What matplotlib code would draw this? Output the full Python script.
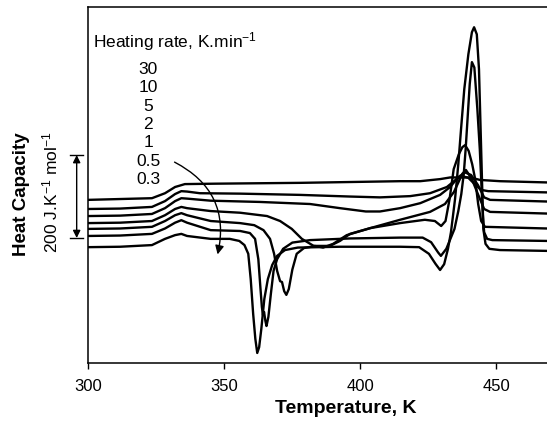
import matplotlib
matplotlib.use('Agg')
import matplotlib.pyplot as plt
import matplotlib.transforms as mtransforms
from matplotlib.patches import FancyArrowPatch

plt.rcParams['font.family'] = ['Liberation Sans', 'DejaVu Sans']
plt.rcParams['mathtext.fontset'] = 'custom'
plt.rcParams['mathtext.rm'] = 'Liberation Sans'
plt.rcParams['mathtext.it'] = 'Liberation Sans:italic'
plt.rcParams['mathtext.bf'] = 'Liberation Sans:bold'

# =======================================================
# DATA: heat capacity traces (J K-1 mol-1, shifted), T in K
# =======================================================
rate_labels = ['30', '10', '5', '2', '1', '0.5', '0.3']

T_30 = [300, 311.7, 323.4, 328.2, 331.9, 335.5, 346.6, 377.8, 414.6, 422, 429.3, 433,
        436.7, 440.3, 444, 451.3, 468.6]
cp_30 = [392, 394, 396, 408, 423, 430, 431, 433, 437, 437, 442, 446,
         446, 446, 440, 437, 434]

T_10 = [300, 311.7, 323.4, 328.2, 331.9, 334.2, 336.3, 341, 355.8, 377.8, 396.2, 407.2,
        418.3, 425.6, 431.8, 435, 437.5, 439.7, 442, 444.4, 447, 468.6]
cp_10 = [370, 371, 375, 389, 406, 413, 412, 408, 407, 404, 400, 398,
         401, 408, 423, 440, 449, 445, 430, 416, 413, 410]

T_5 = [300, 311.7, 323.4, 328.2, 331.9, 334.2, 336.3, 345, 363, 381.5, 392.5, 402,
       407.2, 414.6, 422, 429.3, 433, 436, 438.5, 440.7, 443.2, 445.5, 447.7, 468.6]
cp_5 = [353, 354, 358, 372, 389, 396, 395, 390, 387, 382, 372, 364,
        364, 372, 384, 404, 423, 447, 458, 452, 428, 398, 392, 388]

T_2 = [300, 311.7, 323.4, 328.2, 331.9, 334.2, 336.3, 345, 355.8, 365.7, 370.5, 374.8,
       378.5, 382.6, 386.3, 390, 395, 403.7, 414.6, 425.6, 431.1, 434.4, 437.5, 438.8,
       441, 443.2, 445.5, 447.7, 468.6]
cp_2 = [336, 337, 341, 355, 370, 375, 372, 365, 361, 353, 341, 322,
        298, 282, 277, 286, 307, 324, 344, 363, 382, 411, 455, 464,
        442, 406, 370, 363, 359]

T_1 = [300, 311.7, 323.4, 328.2, 331.9, 334.2, 336.3, 345, 355.8, 361, 364.4, 366.8,
       368.3, 369.4, 370.5, 371.2, 372, 372.8, 373.7, 375, 376.6, 379.3, 383.7, 388.8,
       392.5, 396.2, 403.7, 414.6, 423.7, 427.4, 429.7, 431.3, 432.8, 434.3, 436.2, 437.5,
       438.5, 439.8, 441.1, 442.2, 443.3, 444.4, 445.8, 468.6]
cp_1 = [322, 323, 327, 341, 355, 360, 355, 341, 336, 331, 319, 298,
        262, 221, 196, 194, 172, 163, 177, 224, 262, 276, 281, 281,
        293, 310, 324, 336, 344, 341, 329, 341, 394, 466, 502, 519,
        524, 510, 478, 442, 382, 341, 327, 323]

T_05 = [300, 311.7, 323.4, 328.2, 331.9, 334.2, 336.3, 345, 355.8, 359.4, 361.3, 362.5,
        363.3, 363.8, 364.2, 364.6, 365.1, 365.5, 366.2, 367.1, 368.1, 369.4, 371.6, 375,
        381.5, 396.2, 414.6, 422.9, 426, 428.6, 429.6, 431.6, 433.1, 434.6, 436, 437.1,
        438, 438.7, 439.5, 440.2, 441, 441.9, 443, 443.9, 444.4, 445, 445.5, 446.6,
        448.5, 468.6]
cp_05 = [305, 306, 310, 323, 337, 343, 337, 319, 317, 312, 298, 249,
         177, 134, 114, 122, 100, 88, 110, 165, 221, 249, 274, 289,
         295, 299, 301, 301, 290, 265, 257, 274, 298, 322, 365, 406,
         454, 514, 598, 671, 724, 711, 611, 514, 442, 358, 314, 298,
         295, 293]

T_03 = [300, 311.7, 323.4, 328.2, 331.9, 334.2, 336.3, 345, 352, 355.5, 357.4, 358.8,
        359.7, 360.6, 361.4, 362.1, 362.8, 363.6, 364.7, 366, 367.6, 369.4, 372.3, 377,
        392.5, 414.6, 421.6, 425.2, 427.6, 429.3, 430.8, 432.2, 433.3, 434.8, 436, 437,
        438.2, 439.7, 441, 441.8, 442.8, 443.6, 444.2, 444.8, 445.2, 446, 447.4, 451.3,
        468.6]
cp_03 = [278, 279, 283, 298, 307, 310, 305, 298, 298, 293, 283, 262,
         201, 117, 57, 23, 37, 81, 153, 201, 235, 257, 271, 277,
         279, 279, 278, 262, 238, 223, 237, 274, 314, 394, 478, 562,
         659, 743, 796, 808, 791, 707, 562, 417, 322, 286, 274, 271,
         269]

curves = [(T_30, cp_30), (T_10, cp_10), (T_5, cp_5), (T_2, cp_2),
          (T_1, cp_1), (T_05, cp_05), (T_03, cp_03)]

SCALE_BAR = 200  # J K-1 mol-1
x_ticks = [300, 350, 400, 450]

# =======================================================
# FIGURE
# =======================================================
fig = plt.figure(figsize=(5.47, 4.27), dpi=100)
ax = fig.add_axes([0.1614, 0.1487, 0.8386, 0.8337])

for T, cp in curves:
    ax.plot(T, cp, color='black', lw=1.7, solid_joinstyle='round', solid_capstyle='round')

ax.set_xlim(300, 468.6)
ax.set_ylim(0, 858)
ax.set_xticks(x_ticks)
ax.set_yticks([])
ax.tick_params(axis='x', direction='out', length=4, width=1, labelsize=12, pad=7)
ax.spines['right'].set_visible(False)
for s in ['left', 'top', 'bottom']:
    ax.spines[s].set_linewidth(1.1)

# legend text
ax.text(301.8, 763, r'Heating rate, K.min$^{\mathregular{-1}}$', fontsize=12.5,
        ha='left', va='baseline')
for i, lab in enumerate(rate_labels):
    ax.text(322, 698 - i * 44.2, lab, fontsize=12.5, ha='center', va='baseline')

arr = FancyArrowPatch((330.8, 486), (347.3, 254), connectionstyle='arc3,rad=-0.4',
                      arrowstyle='-|>', mutation_scale=13, color='black', lw=1)
ax.add_patch(arr)

# scale bar left of the axis
trans = mtransforms.blended_transform_factory(ax.transAxes, ax.transData)
bar_lo = 300
bar_hi = bar_lo + SCALE_BAR
ax.annotate('', xy=(-0.0253, bar_hi), xytext=(-0.0253, bar_lo), xycoords=trans,
            textcoords=trans, annotation_clip=False,
            arrowprops=dict(arrowstyle='<|-|>', color='black', lw=1,
                            shrinkA=0, shrinkB=0, mutation_scale=11))
for yy in (bar_lo, bar_hi):
    ax.plot([-0.040, -0.0115], [yy, yy], transform=trans, color='black', lw=1,
            clip_on=False)

fig.text(0.0914, 0.55, r'200 J.K$^{\mathregular{-1}}$ mol$^{\mathregular{-1}}$',
         rotation=90, fontsize=12.5, ha='center', va='center')
fig.text(0.040, 0.546, 'Heat Capacity', rotation=90, fontsize=13.5,
         fontweight='bold', ha='center', va='center')
fig.text(0.6325, 0.032, 'Temperature, K', fontsize=14, fontweight='bold',
         ha='center', va='baseline')

fig.savefig('out.png', dpi=100)
